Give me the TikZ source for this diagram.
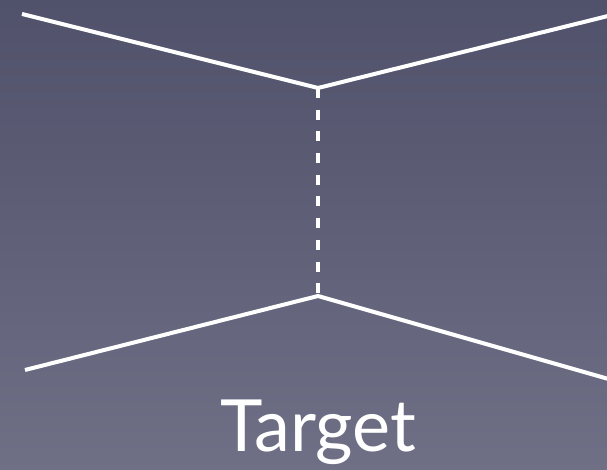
\documentclass[tikz,border=0pt]{standalone}
\usepackage{fontspec}
\setmainfont{Lato}
\definecolor{bgtop}{RGB}{80,81,106}
\definecolor{bgbottom}{RGB}{111,112,134}

\begin{document}
\begin{tikzpicture}[x=1pt,y=1pt,
    leg/.style={white,line width=4pt},
    exchange/.style={white,line width=4pt,dash pattern=on 10pt off 11.7pt}]

  % Background
  \shade[top color=bgtop,bottom color=bgbottom] (0,0) rectangle (607,470);
  \useasboundingbox (0,0) rectangle (607,470);

  % Vertices and free ends
  \coordinate (vtop) at (318,382);
  \coordinate (vbot) at (318,174);
  \coordinate (inbeam) at (22,456);
  \coordinate (outbeam) at (612,455);
  \coordinate (intarget) at (25,100);
  \coordinate (outtarget) at (612,90);

  % Draw the lines
  \draw[leg] (inbeam) -- (vtop) -- (outbeam);
  \draw[leg] (intarget) -- (vbot) -- (outtarget);
  \draw[exchange] (vtop) -- (vbot);

  % Label
  \node[white,font=\fontsize{72}{82}\selectfont,anchor=base] (target) at (318,18) {Target};

\end{tikzpicture}
\end{document}
